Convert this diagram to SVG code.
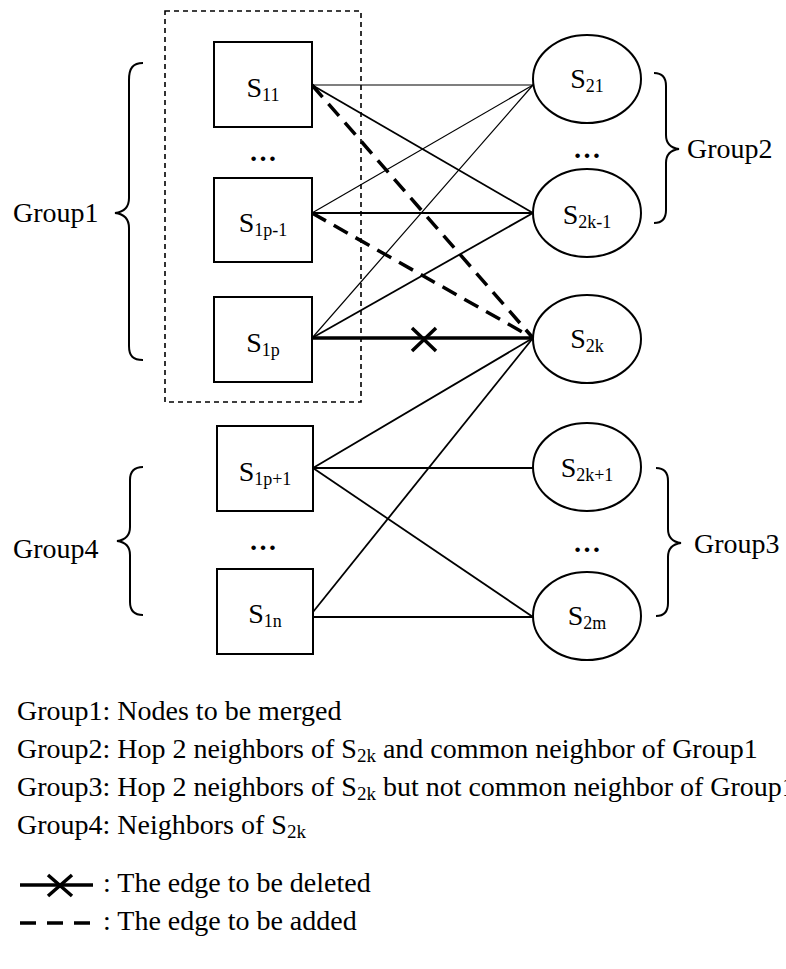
<svg xmlns="http://www.w3.org/2000/svg" width="786" height="969" viewBox="0 0 786 969">
<style>
  text { font-family: "Liberation Serif", "Times New Roman", serif; fill: #000; }
  .lbl { font-size: 28px; text-anchor: middle; }
  .sub { font-size: 18px; }
  .grp { font-size: 28px; }
  .leg { font-size: 28px; }
  .lsub { font-size: 19px; }
  .dots { font-size: 28px; font-weight: bold; text-anchor: middle; }
  .node { fill: #fff; stroke: #000; stroke-width: 2; }
  .thin { stroke: #000; stroke-width: 1.2; fill: none; }
  .med { stroke: #000; stroke-width: 1.8; fill: none; }
  .thick { stroke: #000; stroke-width: 3.5; fill: none; }
  .dash { stroke: #000; stroke-width: 3.5; fill: none; stroke-dasharray: 16 9; }
  .brace { stroke: #000; stroke-width: 2; fill: none; }
</style>

<rect id="group1-box" x="165" y="11" width="196" height="391" fill="none" stroke="#000" stroke-width="1.6" stroke-dasharray="5 4"/>

<g id="connectors">
  <line class="thin" x1="312" y1="85" x2="533" y2="85"/>
  <line class="med" x1="312" y1="85" x2="533" y2="213"/>
  <line class="thin" x1="312" y1="213" x2="533" y2="85"/>
  <line class="med" x1="312" y1="213" x2="533" y2="213"/>
  <line class="thin" x1="312" y1="338" x2="533" y2="85"/>
  <line class="med" x1="312" y1="338" x2="533" y2="213"/>
  <line class="thick" x1="312" y1="338" x2="533" y2="338"/>
  <path class="thick" d="M412,328 L436,351 M412,351 L436,328"/>
  <line class="dash" x1="312" y1="85" x2="533" y2="338"/>
  <line class="dash" x1="312" y1="213" x2="533" y2="338"/>
  <line class="med" x1="313" y1="468" x2="533" y2="338"/>
  <line class="med" x1="313" y1="468" x2="533" y2="468"/>
  <line class="med" x1="313" y1="468" x2="533" y2="617"/>
  <line class="med" x1="313" y1="612" x2="533" y2="338"/>
  <line class="med" x1="313" y1="617" x2="533" y2="617"/>
</g>

<g id="S11"><rect class="node" x="214" y="42" width="98" height="85"/><text class="lbl" x="263" y="97">S<tspan class="sub" dy="4">11</tspan></text></g>
<g id="S1p-1"><rect class="node" x="214" y="178" width="98" height="84"/><text class="lbl" x="263" y="232">S<tspan class="sub" dy="4">1p-1</tspan></text></g>
<g id="S1p"><rect class="node" x="214" y="297" width="98" height="85"/><text class="lbl" x="263" y="352">S<tspan class="sub" dy="4">1p</tspan></text></g>
<g id="S1p+1"><rect class="node" x="217" y="426" width="96" height="85"/><text class="lbl" x="265" y="481">S<tspan class="sub" dy="4">1p+1</tspan></text></g>
<g id="S1n"><rect class="node" x="217" y="569" width="96" height="85"/><text class="lbl" x="265" y="623">S<tspan class="sub" dy="4">1n</tspan></text></g>

<g id="S21"><ellipse class="node" cx="587" cy="79" rx="54" ry="44"/><text class="lbl" x="587" y="88">S<tspan class="sub" dy="4">21</tspan></text></g>
<g id="S2k-1"><ellipse class="node" cx="587" cy="213" rx="54" ry="44"/><text class="lbl" x="587" y="224">S<tspan class="sub" dy="4">2k-1</tspan></text></g>
<g id="S2k"><ellipse class="node" cx="587" cy="339" rx="54" ry="44"/><text class="lbl" x="587" y="348">S<tspan class="sub" dy="4">2k</tspan></text></g>
<g id="S2k+1"><ellipse class="node" cx="587" cy="467" rx="54" ry="44"/><text class="lbl" x="587" y="477">S<tspan class="sub" dy="4">2k+1</tspan></text></g>
<g id="S2m"><ellipse class="node" cx="587" cy="616" rx="54" ry="44"/><text class="lbl" x="587" y="625">S<tspan class="sub" dy="4">2m</tspan></text></g>

<g id="ellipsis-dots">
  <text class="dots" x="263" y="161">…</text>
  <text class="dots" x="263" y="550">…</text>
  <text class="dots" x="587" y="158">…</text>
  <text class="dots" x="587" y="552">…</text>
</g>

<g id="group1">
  <path class="brace" d="M143,63 C133,63 129,68 129,80 L129,198 C129,208 124,212 115,213 C124,214 129,218 129,228 L129,346 C129,356 133,360 143,360"/>
  <text class="grp" x="13" y="222">Group1</text>
</g>
<g id="group4">
  <path class="brace" d="M143,467 C134,467 130,471 130,480 L130,527 C130,536 125,540 117,541 C125,542 130,546 130,555 L130,602 C130,611 134,615 143,615"/>
  <text class="grp" x="13" y="558">Group4</text>
</g>
<g id="group2">
  <path class="brace" d="M654,73 C662,73 666,77 666,86 L666,135 C666,144 671,148 679,149 C671,150 666,154 666,163 L666,210 C666,219 662,223 654,223"/>
  <text class="grp" x="687" y="158">Group2</text>
</g>
<g id="group3">
  <path class="brace" d="M656,468 C664,468 668,472 668,481 L668,529 C668,538 673,542 681,543 C673,544 668,548 668,557 L668,603 C668,612 664,616 656,616"/>
  <text class="grp" x="694" y="553">Group3</text>
</g>

<g id="legend">
  <text class="leg" x="17" y="720">Group1: Nodes to be merged</text>
  <text class="leg" x="17" y="758">Group2: Hop 2 neighbors of S<tspan class="lsub" dy="4">2k</tspan><tspan dy="-4"> and common neighbor of Group1</tspan></text>
  <text class="leg" x="17" y="796">Group3: Hop 2 neighbors of S<tspan class="lsub" dy="4">2k</tspan><tspan dy="-4"> but not common neighbor of Group1</tspan></text>
  <text class="leg" x="17" y="834">Group4: Neighbors of S<tspan class="lsub" dy="4">2k</tspan></text>
  <line class="thick" x1="20" y1="885" x2="93" y2="885"/>
  <path class="thick" d="M48,875 L72,896 M48,896 L72,875"/>
  <text class="leg" x="103" y="892">: The edge to be deleted</text>
  <line class="dash" x1="20" y1="923" x2="93" y2="923" style="stroke-dasharray:16 11"/>
  <text class="leg" x="103" y="930">: The edge to be added</text>
</g>
</svg>
